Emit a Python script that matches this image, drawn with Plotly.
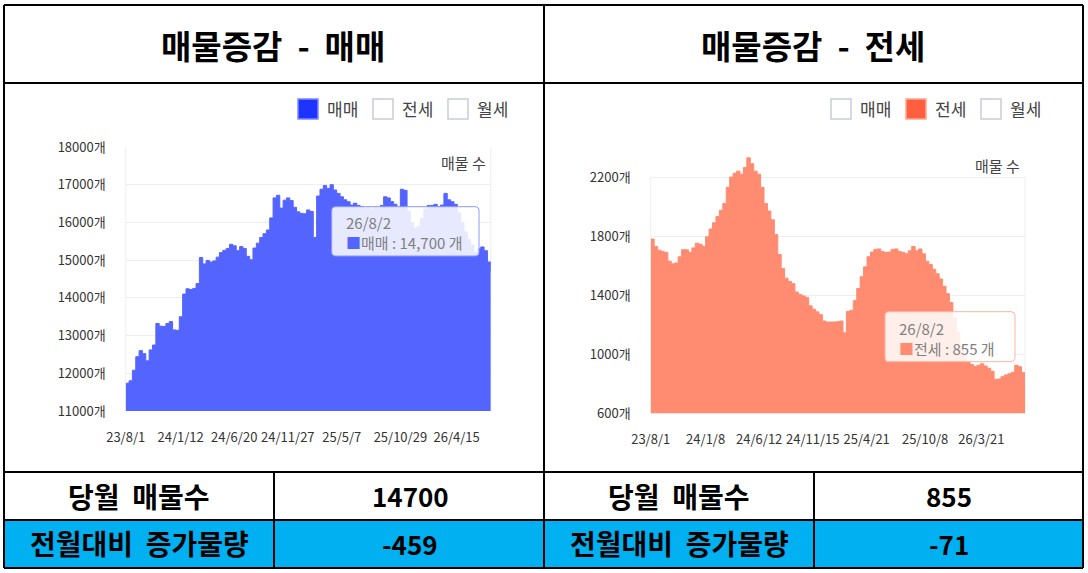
import pandas as pd
import plotly.graph_objects as go

W, H = 1088, 573
FONT = "Noto Sans CJK KR"

# --- data -----------------------------------------------------------------
SERIES = ["매매", "전세", "월세"]
DATES = pd.date_range("2023-08-01", periods=110, freq="10D")

# 매물 수 (매매)
SALE = [11735, 11800, 12080, 12440, 12600, 12520, 12330, 12620, 12750, 13320,
        13250, 13240, 13320, 13370, 13150, 13140, 13500, 14100, 14240, 14220,
        14250, 14380, 15070, 14900, 14990, 14950, 14980, 15080, 15200, 15260,
        15310, 15420, 15380, 15250, 15360, 15310, 15100, 15010, 15320, 15450,
        15600, 15700, 15800, 16120, 16650, 16720, 16380, 16590, 16650, 16580,
        16400, 16280, 16240, 16230, 16330, 16290, 15600, 16700, 16880, 16980,
        16900, 17000, 16860, 16770, 16680, 16600, 16550, 16460, 16510, 16450,
        16420, 16380, 16400, 16350, 16400, 16380, 16450, 16680, 16650, 16550,
        16480, 16400, 16880, 16850, 16300, 16000, 15850, 15900, 16100, 16350,
        16450, 16450, 16480, 16420, 16460, 16770, 16600, 16550, 16480, 16250,
        16000, 15750, 15550, 15400, 15200, 15300, 15350, 15250, 14950, 14700]

# 매물 수 (전세)
JEONSE = [1780, 1730, 1705, 1695, 1690, 1630, 1612, 1618, 1660, 1708,
          1707, 1690, 1720, 1752, 1745, 1730, 1795, 1848, 1890, 1933,
          1975, 2020, 2130, 2200, 2225, 2240, 2219, 2265, 2330, 2290,
          2240, 2219, 2130, 2020, 1970, 1910, 1810, 1675, 1580, 1515,
          1493, 1478, 1421, 1405, 1395, 1385, 1328, 1305, 1287, 1268,
          1225, 1218, 1218, 1218, 1220, 1225, 1145, 1290, 1297, 1364,
          1445, 1525, 1592, 1660, 1692, 1710, 1713, 1695, 1690, 1692,
          1710, 1713, 1695, 1690, 1680, 1700, 1730, 1700, 1713, 1680,
          1630, 1608, 1575, 1545, 1510, 1460, 1410, 1350, 1250, 1150,
          1060, 1000, 950, 930, 918, 925, 935, 920, 905, 885,
          830, 832, 848, 860, 868, 878, 925, 915, 875, 855]

SALE_TICK_DATES = ["2023-08-01", "2024-01-12", "2024-06-20", "2024-11-27",
                   "2025-05-07", "2025-10-29", "2026-04-15"]
SALE_TICK_TEXT = ["23/8/1", "24/1/12", "24/6/20", "24/11/27",
                  "25/5/7", "25/10/29", "26/4/15"]
JEONSE_TICK_DATES = ["2023-08-01", "2024-01-08", "2024-06-12", "2024-11-15",
                     "2025-04-21", "2025-10-08", "2026-03-21"]
JEONSE_TICK_TEXT = ["23/8/1", "24/1/8", "24/6/12", "24/11/15",
                    "25/4/21", "25/10/8", "26/3/21"]
SALE_YTICKS = [11000, 12000, 13000, 14000, 15000, 16000, 17000, 18000]
JEONSE_YTICKS = [600, 1000, 1400, 1800, 2200]

LAST_LABEL = "26/8/2"
SALE_CHANGE = -459
JEONSE_CHANGE = -71

SALE_COLOR = "#5465FF"
JEONSE_COLOR = "#FF8B70"
SP = "&nbsp;"


def px(x):
    return x / W


def py(y):
    return 1 - y / H


def rounded_box(x0, y0, x1, y1, r=4):
    pts = [("M", x0 + r, y0), ("L", x1 - r, y0), ("Q", x1, y0, x1, y0 + r),
           ("L", x1, y1 - r), ("Q", x1, y1, x1 - r, y1), ("L", x0 + r, y1),
           ("Q", x0, y1, x0, y1 - r), ("L", x0, y0 + r), ("Q", x0, y0, x0 + r, y0)]
    out = []
    for p in pts:
        coords = p[1:]
        s = " ".join(f"{px(coords[i]):.5f},{py(coords[i + 1]):.5f}" for i in range(0, len(coords), 2))
        out.append(f"{p[0]} {s}")
    return " ".join(out) + " Z"


fig = go.Figure()

fig.add_trace(go.Scatter(
    x=DATES, y=SALE, name=SERIES[0], mode="lines",
    line=dict(color=SALE_COLOR, width=1, shape="hv"),
    fill="tozeroy", fillcolor=SALE_COLOR, xaxis="x", yaxis="y",
    hoverinfo="skip", showlegend=False))

fig.add_trace(go.Scatter(
    x=DATES, y=JEONSE, name=SERIES[1], mode="lines",
    line=dict(color=JEONSE_COLOR, width=1, shape="hv"),
    fill="tozeroy", fillcolor=JEONSE_COLOR, xaxis="x2", yaxis="y2",
    hoverinfo="skip", showlegend=False))

tick_font = dict(family=FONT, size=13, color="#333")
common_x = dict(type="date", showgrid=False, zeroline=False, showline=False, automargin=False,
                ticks="", tickfont=tick_font, ticklabelstandoff=17, fixedrange=True)
common_y = dict(showgrid=True, gridcolor="#EEEEEE", gridwidth=1, zeroline=False, automargin=False,
                showline=False, ticks="", tickfont=tick_font,
                ticklabelstandoff=19, fixedrange=True)

fig.update_layout(
    width=W, height=H,
    margin=dict(l=0, r=0, t=0, b=0, pad=0),
    paper_bgcolor="white", plot_bgcolor="white",
    font=dict(family=FONT),
    showlegend=False,
    xaxis=dict(common_x, domain=[px(125.7), px(490.8)], range=[DATES[0], DATES[-1]],
               tickvals=SALE_TICK_DATES, ticktext=SALE_TICK_TEXT, anchor="y"),
    yaxis=dict(common_y, domain=[py(411), py(147)], range=[11000, 18000],
               tickvals=SALE_YTICKS, ticktext=[f"{v}개" for v in SALE_YTICKS], anchor="x"),
    xaxis2=dict(common_x, domain=[px(650.7), px(1025)], range=[DATES[0], DATES[-1]],
                tickvals=JEONSE_TICK_DATES, ticktext=JEONSE_TICK_TEXT, anchor="y2"),
    yaxis2=dict(common_y, domain=[py(413.3), py(147.5)], range=[600, 2400],
                tickvals=JEONSE_YTICKS, ticktext=[f"{v}개" for v in JEONSE_YTICKS], anchor="x2"),
)

shapes = []
# frame sides of the plot areas
for xr, yr, lo, hi in [("x", "y", 11000, 18000), ("x2", "y2", 600, 2200)]:
    for side in (0, 1):
        shapes.append(dict(type="line", xref=f"{xr} domain", yref=yr, x0=side, x1=side,
                           y0=lo, y1=hi, line=dict(color="#EEEEEE", width=1), layer="below"))

# table background row
shapes.append(dict(type="rect", xref="paper", yref="paper", x0=px(4), x1=px(1083),
                   y0=py(568), y1=py(520), fillcolor="#00B0F0", line=dict(width=0), layer="below"))

# tooltips
shapes.append(dict(type="path", xref="paper", yref="paper", path=rounded_box(331.7, 206.7, 479, 256),
                   fillcolor="rgba(255,255,255,0.86)", line=dict(color="#8D98FF", width=1)))
shapes.append(dict(type="path", xref="paper", yref="paper", path=rounded_box(885, 311.7, 1015, 361.7),
                   fillcolor="rgba(255,255,255,0.86)", line=dict(color="#FFB3A2", width=1)))

# table/grid borders
border = dict(color="black", width=2)
lines = [
    (4, 5, 1083, 5), (4, 568, 1083, 568), (4, 5, 4, 568), (1083, 5, 1083, 568),
    (4, 83, 1083, 83), (4, 472, 1083, 472), (4, 520, 1083, 520),
    (544, 5, 544, 568), (274, 472, 274, 568), (814, 472, 814, 568),
]
for x0, y0, x1, y1 in lines:
    shapes.append(dict(type="line", xref="paper", yref="paper", x0=px(x0), y0=py(y0),
                       x1=px(x1), y1=py(y1), line=border))

# legends (active series filled, others empty)
legend_boxes = [
    (298, ["#1F33FF", None, None], "#7C88FF"),
    (831, [None, "#FF5F3F", None], "#FFA590"),
]
label_annots = []
for left, fills, edge in legend_boxes:
    for k, name in enumerate(SERIES):
        bx = left + k * 75
        fill = fills[k]
        shapes.append(dict(type="rect", xref="paper", yref="paper",
                           x0=px(bx), x1=px(bx + 20), y0=py(119), y1=py(99),
                           fillcolor=fill if fill else "white",
                           line=dict(color=edge if fill else "#C9CDD6", width=1.5)))
        label_annots.append(dict(x=px(bx + 27), y=py(109), xref="paper", yref="paper",
                                 text=name, showarrow=False, xanchor="left", yanchor="middle",
                                 font=dict(family=FONT, size=17, color="#444")))

fig.update_layout(shapes=shapes)

annots = list(label_annots)


def text(x, y, s, size, color="black", xanchor="center", bold=False, align="center"):
    annots.append(dict(x=px(x), y=py(y), xref="paper", yref="paper",
                       text=f"<b>{s}</b>" if bold else s, showarrow=False,
                       xanchor=xanchor, yanchor="middle", align=align,
                       font=dict(family=FONT, size=size, color=color)))


# titles
text(273, 45, f"매물증감{SP*2}-{SP*2}매매", 33, bold=True)
text(813, 45, f"매물증감{SP*2}-{SP*2}전세", 33, bold=True)

# axis name
text(488, 163, "매물 수", 15, color="#444", xanchor="right")
text(1022, 165, "매물 수", 15, color="#444", xanchor="right")

# tooltip texts
text(344, 232, f"{LAST_LABEL}<br><span style='color:{SALE_COLOR}'>■</span>{SERIES[0]} : {SALE[-1]:,} 개",
     15, color="#808080", xanchor="left", align="left")
text(897, 338.5, f"{LAST_LABEL}<br><span style='color:{JEONSE_COLOR}'>■</span>{SERIES[1]} : {JEONSE[-1]:,} 개",
     15, color="#808080", xanchor="left", align="left")

# summary table
row1, row2 = 495.7, 543
text(139, row1, f"당월{SP*2}매물수", 28, bold=True)
text(410, row1, str(SALE[-1]), 26, bold=True)
text(679, row1, f"당월{SP*2}매물수", 28, bold=True)
text(949, row1, str(JEONSE[-1]), 26, bold=True)
text(139, row2, f"전월대비{SP*2}증가물량", 28, bold=True)
text(410, row2, str(SALE_CHANGE), 26, bold=True)
text(679, row2, f"전월대비{SP*2}증가물량", 28, bold=True)
text(949, row2, str(JEONSE_CHANGE), 26, bold=True)

fig.update_layout(annotations=annots)

fig.write_html("out.html", config={"displayModeBar": False},
               post_script="document.body.style.margin='0px';")
